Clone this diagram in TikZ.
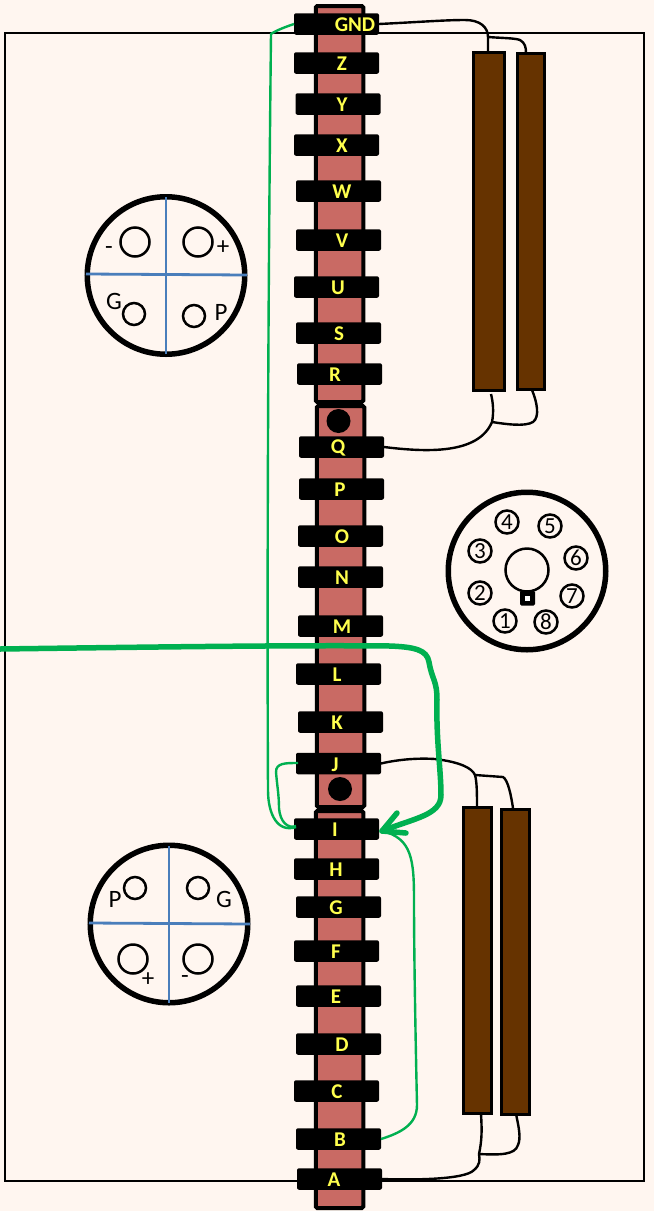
\documentclass[tikz,border=0pt]{standalone}
\usepackage{fontspec}
\setmainfont{Carlito}
\definecolor{bgc}{HTML}{FFF6F0}
\definecolor{stripc}{HTML}{C96A64}
\definecolor{brownc}{HTML}{663300}
\definecolor{wiregreen}{HTML}{00B050}
\definecolor{bluec}{HTML}{4A7EBB}
\definecolor{labc}{HTML}{FFFF4D}
\tikzset{
  stripbox/.style={draw=black,fill=stripc,line width=4pt,rounded corners=1.5pt,minimum width=47.5pt,inner sep=0,outer sep=0},
  tabbox/.style={fill=black,rounded corners=2pt,minimum width=85pt,minimum height=21.5pt,inner sep=0,outer sep=0},
  tablabel/.style={text=labc,font=\fontsize{21}{21}\selectfont\bfseries,inner sep=0},
  brownbar/.style={draw=black,fill=brownc,line width=3pt,inner sep=0,outer sep=0},
  blackwire/.style={draw=black,line width=2.4pt},
  thingreen/.style={draw=wiregreen,line width=2.4pt},
  thickgreen/.style={draw=wiregreen,line width=5.5pt,line cap=round,line join=round},
  outerdisc/.style={circle,draw=black,line width=5.5pt,inner sep=0,outer sep=0,minimum size=157.5pt},
  bluerule/.style={draw=bluec,line width=2.8pt},
  bigpin/.style={circle,draw=black,line width=2.5pt,inner sep=0,minimum size=29pt},
  smallpin/.style={circle,draw=black,line width=2.5pt,inner sep=0,minimum size=22pt},
  octpin/.style={circle,draw=black,line width=2.5pt,inner sep=0,minimum size=23pt,font=\fontsize{23}{23}\selectfont},
  plainlabel/.style={inner sep=0,font=\fontsize{25}{25}\selectfont},
}
\begin{document}
\begin{tikzpicture}[x=1pt,y=-1pt]
\useasboundingbox (0,0) rectangle (654,1211);
\fill[bgc] (0,0) rectangle (654,1211);
\node[draw=black,line width=2.2pt,minimum width=639pt,minimum height=1148pt,inner sep=0,outer sep=0] (frame) at (324.5,607) {};
% strips
\node[stripbox,minimum height=396pt] (s1) at (339.5,204) {};
\node[stripbox,minimum height=401pt] (s2) at (340.5,606.5) {};
\node[stripbox,minimum height=397pt] (s3) at (339.5,1009.5) {};
% terminals
\foreach \n/\x/\y/\lx in {GND/336.5/24/355,Z/336.5/63/342,Y/338/104/342,X/336.5/145/342,W/338.5/191/342,V/338.5/240/342,U/336.5/287/338,S/338.5/333/339,R/339.5/374/335,Q/341.5/447/338,P/341.5/489/340,O/340.5/536/342,N/340.5/577/342,M/340.5/626/342,L/338.5/674/337,K/340.5/722/337,J/338.5/763.5/335,I/336.5/829/335,H/336.5/869/336,G/338.5/907/336,F/336.5/951/336,E/338.5/996/336,D/338.5/1044/342,C/336.5/1091/337,B/338.5/1139/340,A/339.5/1179/334}{
  \node[tabbox] (t\n) at (\x,\y) {};
  \node[tablabel] (l\n) at (\lx,\y+1) {\n};
}
% contact dots
\node[circle,fill=black,minimum size=24pt,inner sep=0] (dot1) at (338.5,421) {};
\node[circle,fill=black,minimum size=24pt,inner sep=0] (dot2) at (340,789) {};
% brown bars
\node[brownbar,minimum width=31pt,minimum height=338pt] (b1) at (489,221) {};
\node[brownbar,minimum width=27pt,minimum height=336pt] (b2) at (531,221) {};
\node[brownbar,minimum width=28pt,minimum height=306pt] (b3) at (477.5,960) {};
\node[brownbar,minimum width=28pt,minimum height=305pt] (b4) at (515.5,961.5) {};
% black wires
\coordinate (jg) at (488,37);
\draw[blackwire] (tGND.east) .. controls (420,22) and (445,20) .. (465,20) .. controls (480,20) and (488,27) .. (jg) -- (b1.north -| jg);
\draw[blackwire] (jg) .. controls (500,38) and (515,38) .. (520,40) .. controls (525,43) and (526,47) .. (b2.north -| 526,0);
\coordinate (jq) at (492,422);
\draw[blackwire] (tQ.east) .. controls (425,452) and (478,455) .. (jq) .. controls (494,412) and (493,402) .. (491,394);
\draw[blackwire] (jq) .. controls (505,424) and (525,427) .. (533,422) .. controls (540,417) and (537,402) .. (532,390);
\coordinate (jj) at (475,775);
\draw[blackwire] (tJ.east) .. controls (400,759) and (420,758) .. (435,759) .. controls (460,762) and (472,768) .. (jj) .. controls (477,782) and (477,795) .. (477,807);
\draw[blackwire] (jj) -- (503,777) .. controls (508,780) and (511,795) .. (513,808);
\coordinate (ja) at (479,1154);
\draw[blackwire] (tA.east) .. controls (410,1180) and (465,1180) .. (474,1170) .. controls (480,1165) and (480,1160) .. (ja) .. controls (482,1140) and (482,1130) .. (481,1114);
\draw[blackwire] (ja) .. controls (500,1155) and (515,1155) .. (518,1145) .. controls (521,1138) and (519,1128) .. (516,1114);
% green wires
\draw[thingreen] (tGND.west) .. controls (285,27) and (275,31) .. (271,34) .. controls (268,300) and (267,600) .. (268,790) .. controls (268,815) and (278,833) .. (296,827);
\draw[thingreen] (298,763) .. controls (285,763) and (276,763) .. (276,772) .. controls (277,785) and (279,795) .. (279,808) .. controls (280,822) and (288,829) .. (296,826);
\coordinate (tip) at (382,831);
\draw[thingreen] (tB.east) .. controls (400,1133) and (417,1125) .. (417,1105) .. controls (416,1060) and (414,960) .. (414,900) .. controls (414,860) and (412,838) .. (tip);
\coordinate (wireleft) at (0,649);
\draw[thickgreen] (wireleft) .. controls (150,647) and (300,645) .. (390,646) .. controls (415,647) and (427,650) .. (429,662) .. controls (432,680) and (437,680) .. (437,700) .. controls (436,740) and (441,770) .. (441,795) .. controls (441,815) and (415,818) .. (tip);
\draw[thickgreen] (397,813) -- (tip) -- (406,833);
% top-left connector
\node[outerdisc] (c1) at (166,275.5) {};
\draw[bluerule] (166,197) -- (166,354);
\draw[bluerule] (86,274) -- (247,275);
\node[bigpin] (c1a) at (135,242) {};
\node[bigpin] (c1b) at (198,242) {};
\node[smallpin] (c1c) at (134,314) {};
\node[smallpin] (c1d) at (194,316) {};
\node[plainlabel] (c1la) at (109,251) {-};
\node[plainlabel] (c1lb) at (223,248) {+};
\node[plainlabel] (c1lc) at (114,301) {G};
\node[plainlabel] (c1ld) at (221,312) {P};
% bottom-left connector
\node[outerdisc] (c2) at (169,924) {};
\draw[bluerule] (169,846) -- (169,1003);
\draw[bluerule] (89,923) -- (250,924);
\node[bigpin] (c2a) at (133,959) {};
\node[bigpin] (c2b) at (198,959) {};
\node[smallpin] (c2c) at (135,888) {};
\node[smallpin] (c2d) at (198,888) {};
\node[plainlabel] (c2la) at (115,899) {P};
\node[plainlabel] (c2lb) at (224,899) {G};
\node[plainlabel] (c2lc) at (148,980) {+};
\node[plainlabel] (c2ld) at (185,980) {-};
% octal socket
\node[outerdisc] (c3) at (527,571) {};
\node[circle,draw=black,line width=2.5pt,minimum size=43pt,inner sep=0] (hub) at (527,570) {};
\node[fill=black,rounded corners=1.5pt,minimum size=15pt,inner sep=0] (key) at (527.5,598) {};
\node[fill=white,minimum size=4.5pt,inner sep=0] (keyhole) at (527.5,598.5) {};
\foreach \d/\x/\y in {1/505/621,2/480/593,3/480/551,4/507/522,5/550/526,6/576/558,7/572/596,8/546/622}{
  \node[octpin] (o\d) at (\x,\y) {\d};
}
\end{tikzpicture}
\end{document}
